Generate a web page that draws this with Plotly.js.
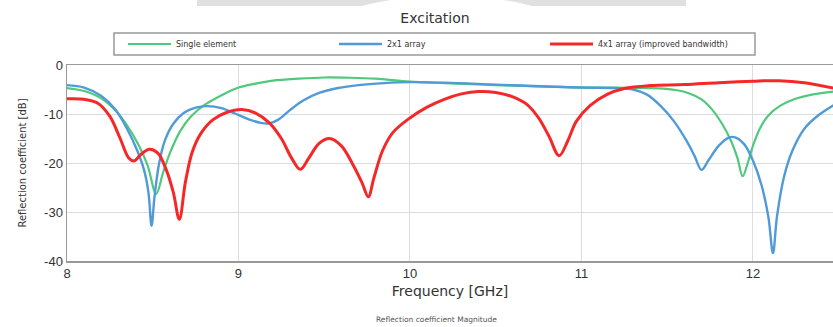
<!DOCTYPE html>
<html>
<head>
<meta charset="utf-8">
<script src="https://cdn.plot.ly/plotly-3.0.1.min.js"></script>
<style>html,body{margin:0;padding:0;background:#fff;}#chart{width:833px;height:327px;}</style>
</head>
<body>
<div id="chart"></div>
<script>
// Series names
const seriesNames = ["Single element", "2x1 array", "4x1 array (improved bandwidth)"];

// Single element
const singleFreq = [8.0, 8.1, 8.2, 8.28, 8.35, 8.42, 8.47, 8.52, 8.56, 8.6, 8.66, 8.72, 8.8, 8.9, 9.0, 9.1, 9.2, 9.35, 9.5, 9.65, 9.8, 10.0, 10.2, 10.5, 10.8, 11.0, 11.3, 11.45, 11.55, 11.63, 11.7, 11.76, 11.82, 11.87, 11.91, 11.94, 11.97, 12.0, 12.04, 12.09, 12.16, 12.24, 12.35, 12.47];
const singleS11  = [-4.7, -5.3, -6.8, -9.2, -12.3, -16.5, -20.5, -26.3, -22.0, -18.0, -13.5, -10.6, -8.2, -6.2, -4.6, -3.8, -3.2, -2.8, -2.55, -2.6, -2.8, -3.4, -3.7, -4.1, -4.4, -4.6, -4.65, -4.75, -5.1, -5.8, -7.0, -9.0, -12.0, -15.3, -19.0, -22.7, -20.0, -16.5, -13.0, -10.3, -8.3, -7.0, -6.0, -5.4];

// 2x1 array
const twoFreq = [8.0, 8.1, 8.2, 8.28, 8.35, 8.41, 8.45, 8.475, 8.493, 8.51, 8.535, 8.57, 8.62, 8.68, 8.75, 8.82, 8.9, 8.98, 9.06, 9.13, 9.18, 9.23, 9.3, 9.38, 9.47, 9.58, 9.7, 9.85, 10.0, 10.2, 10.5, 10.8, 11.0, 11.2, 11.3, 11.38, 11.46, 11.54, 11.61, 11.66, 11.7, 11.74, 11.8, 11.86, 11.9, 11.95, 12.0, 12.05, 12.09, 12.117, 12.14, 12.18, 12.23, 12.3, 12.38, 12.47];
const twoS11  = [-4.1, -4.6, -6.3, -9.0, -13.0, -17.5, -21.5, -26.0, -32.8, -27.0, -20.5, -15.5, -12.0, -9.8, -8.7, -8.4, -8.8, -9.9, -11.1, -11.8, -11.9, -11.2, -9.2, -7.2, -5.7, -4.7, -4.1, -3.7, -3.5, -3.6, -4.0, -4.4, -4.6, -4.7, -5.0, -6.0, -8.3, -11.5, -15.3, -18.6, -21.4, -19.5, -16.5, -14.8, -14.8, -16.2, -19.5, -24.5, -31.0, -38.4, -31.0, -23.0, -17.5, -13.0, -10.3, -8.2];

// 4x1 array (improved bandwidth)
const fourFreq = [8.0, 8.1, 8.18, 8.25, 8.31, 8.36, 8.39, 8.43, 8.48, 8.53, 8.58, 8.62, 8.655, 8.69, 8.73, 8.78, 8.85, 8.93, 9.02, 9.1, 9.18, 9.25, 9.31, 9.36, 9.41, 9.47, 9.53, 9.6, 9.67, 9.72, 9.757, 9.79, 9.84, 9.9, 10.0, 10.1, 10.2, 10.3, 10.4, 10.5, 10.6, 10.68, 10.75, 10.81, 10.87, 10.92, 10.97, 11.05, 11.15, 11.25, 11.4, 11.6, 11.8, 12.0, 12.15, 12.3, 12.47];
const fourS11  = [-6.9, -7.0, -7.8, -10.5, -15.0, -19.0, -19.6, -18.3, -17.2, -18.0, -21.5, -26.0, -31.5, -24.0, -17.8, -14.0, -11.2, -9.7, -9.1, -9.8, -11.8, -15.0, -19.0, -21.3, -19.0, -16.0, -15.0, -16.5, -20.5, -24.0, -26.9, -23.0, -17.5, -13.8, -10.8, -8.6, -7.0, -5.9, -5.4, -5.6, -6.5, -8.0, -10.8, -14.5, -18.5, -15.5, -11.5, -8.3, -6.0, -4.8, -4.2, -4.0, -3.6, -3.3, -3.2, -3.6, -4.7];

// Axis ticks
const xTicks = [8, 9, 10, 11, 12];
const xTickLabels = ["8", "9", "10", "11", "12"];
const yTicks = [0, -10, -20, -30, -40];
const yTickLabels = ["0", "-10", "-20", "-30", "-40"];

const colors = ["rgb(80,200,125)", "rgb(80,155,215)", "rgb(245,40,40)"];
const widths = [2.2, 2.4, 3];

const traces = [
  {x: singleFreq, y: singleS11, name: seriesNames[0]},
  {x: twoFreq, y: twoS11, name: seriesNames[1]},
  {x: fourFreq, y: fourS11, name: seriesNames[2]}
].map((t, i) => Object.assign(t, {
  type: "scatter", mode: "lines",
  line: {color: colors[i], width: widths[i], shape: "spline", smoothing: 1}
}));

const W = 833, H = 327, L = 67, R = 0, T = 65, B = 66;
const pw = W - L - R, ph = H - T - B;
const px = v => (v - L) / pw;
const py = v => (H - B - v) / ph;
const TXT = "DejaVu Sans, Verdana, sans-serif";

const layout = {
  width: W, height: H,
  margin: {l: L, r: R, t: T, b: B, pad: 0, autoexpand: false},
  paper_bgcolor: "#fff", plot_bgcolor: "#fff",
  font: {family: "Liberation Sans, Arial, sans-serif", color: "#333", size: 12},
  title: {text: "Excitation", font: {family: TXT, size: 14, color: "#333"}, xref: "container", x: 435 / W, xanchor: "center", yref: "container", y: 1 - 18 / H, yanchor: "middle"},
  showlegend: true,
  legend: {
    orientation: "h", xref: "container", yref: "container",
    x: 123 / W, xanchor: "left", y: 1 - 29.5 / H, yanchor: "top",
    borderwidth: 0, bgcolor: "rgba(0,0,0,0)",
    font: {family: TXT, size: 8, color: "#333"},
    entrywidth: 153, entrywidthmode: "pixels", itemwidth: 43,
    tracegroupgap: 0
  },
  xaxis: {
    range: [8, 12.467], tickvals: xTicks, ticktext: xTickLabels,
    showgrid: true, gridcolor: "#ddd", gridwidth: 1,
    showline: true, linecolor: "#999", linewidth: 1.5, mirror: true,
    ticks: "", zeroline: false, tickfont: {size: 13, color: "#333"},
    title: {text: "Frequency [GHz]", font: {family: TXT, size: 14, color: "#333"}, standoff: 6}
  },
  yaxis: {
    range: [-40, 0], tickvals: yTicks, ticktext: yTickLabels,
    showgrid: true, gridcolor: "#ddd", gridwidth: 1,
    showline: true, linecolor: "#999", linewidth: 1.5, mirror: true,
    ticks: "", zeroline: false, tickfont: {size: 13, color: "#333"},
    title: {text: "Reflection coefficient [dB]", font: {family: TXT, size: 10, color: "#333"}, standoff: 15}
  },
  shapes: [
    {type: "rect", xref: "paper", yref: "paper", x0: px(197), x1: px(686), y0: py(6), y1: py(-2), fillcolor: "#e0e0e0", line: {width: 0}, layer: "above"},
    {type: "circle", xref: "paper", yref: "paper", x0: px(347), x1: px(547), y0: py(36.4), y1: py(-3.4), fillcolor: "#fff", line: {width: 0}, layer: "above"},
    {type: "rect", xref: "paper", yref: "paper", x0: px(114), x1: px(755), y0: py(55), y1: py(33), fillcolor: "rgba(0,0,0,0)", line: {color: "#999", width: 1.5}, layer: "above"}
  ],
  annotations: [
    {text: "Reflection coefficient Magnitude", xref: "paper", yref: "paper", x: px(436), y: py(319), xanchor: "center", yanchor: "middle", showarrow: false, font: {family: TXT, size: 7.5, color: "#555"}}
  ]
};

Plotly.newPlot("chart", traces, layout, {displayModeBar: false, staticPlot: true});
</script>
</body>
</html>
